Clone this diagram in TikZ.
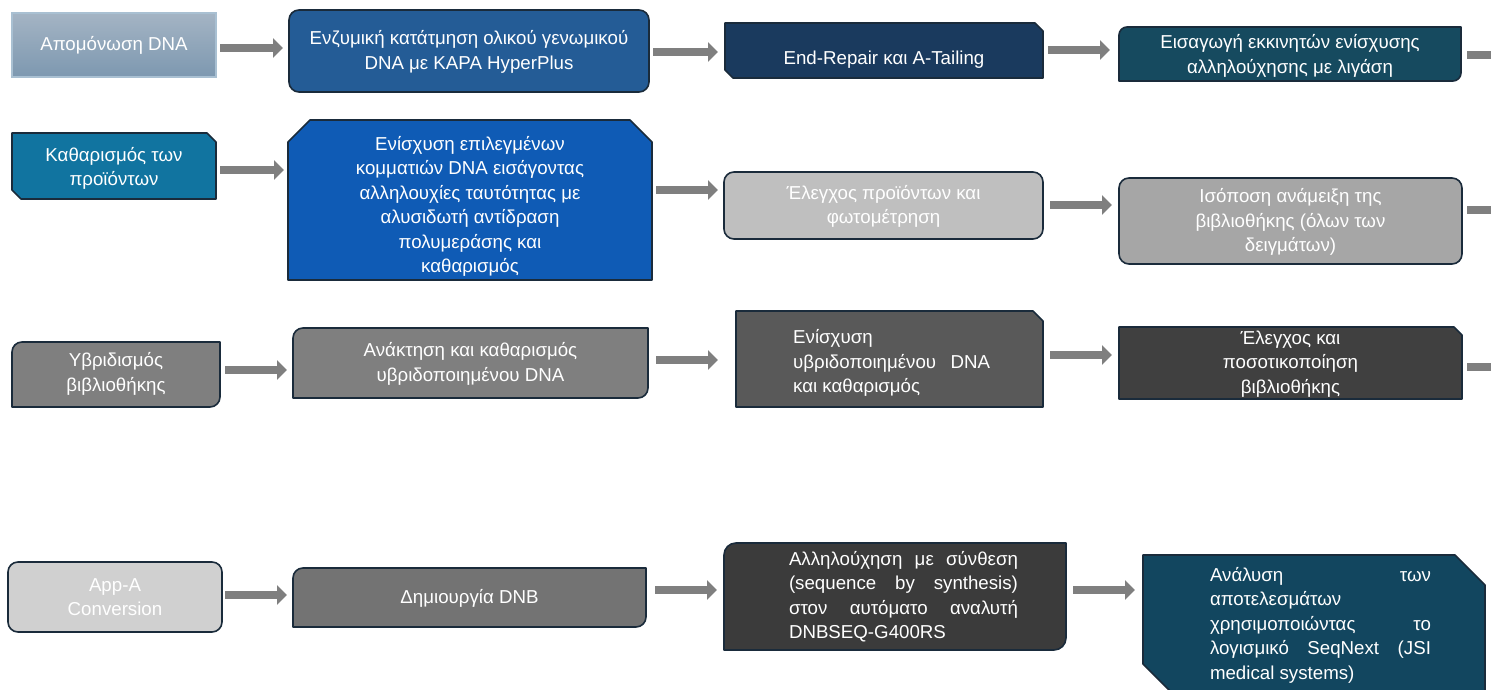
\documentclass[tikz,border=0pt]{standalone}
\usepackage{fontspec}
\setmainfont{Liberation Sans}
\usetikzlibrary{arrows.meta}
\definecolor{bordc}{HTML}{1A2B3B}
\definecolor{arrc}{HTML}{7F7F7F}
\definecolor{gtop}{HTML}{A4B4C4}
\definecolor{gbot}{HTML}{7D98B0}
\definecolor{gbrd}{HTML}{A9C0D2}
\definecolor{cA}{HTML}{245C96}
\definecolor{cB}{HTML}{1A3A5E}
\definecolor{cC}{HTML}{164A5F}
\definecolor{cD}{HTML}{1174A0}
\definecolor{cE}{HTML}{0F5BB5}
\definecolor{cF}{HTML}{BFBFBF}
\definecolor{cG}{HTML}{A6A6A6}
\definecolor{cH}{HTML}{7F7F7F}
\definecolor{cI}{HTML}{595959}
\definecolor{cJ}{HTML}{404040}
\definecolor{cK}{HTML}{D0D0D0}
\definecolor{cL}{HTML}{737373}
\definecolor{cM}{HTML}{3B3B3B}
\definecolor{cN}{HTML}{12465F}
\newcommand\bxRound[3]{\draw[#2, rounded corners=#3] (#1.north west) rectangle (#1.south east);}
\newcommand\bxTLBR[3]{\draw[#2] (#1.south west) -- ([yshift=-#3]#1.north west) arc[start angle=180,end angle=90,radius=#3] -- (#1.north east) -- ([yshift=#3]#1.south east) arc[start angle=0,end angle=-90,radius=#3] -- cycle;}
\newcommand\bxSnip[5]{\draw[#2] ([yshift=-#3]#1.north west) -- ([xshift=#3]#1.north west) -- ([xshift=-#4]#1.north east) -- ([yshift=-#4]#1.north east) -- (#1.south east) -- ([xshift=#5]#1.south west) -- ([yshift=#5]#1.south west) -- cycle;}
\begin{document}
\begin{tikzpicture}[x=1pt,y=1pt,
  frame/.style={inner sep=0pt, outer sep=0pt},
  bd/.style={draw=bordc, line width=1.6pt, line join=round},
  txt/.style={text=white, align=center, inner sep=0pt, font=\fontsize{18.7}{24.5}\selectfont},
  arr/.style={draw=arrc, line width=8pt, -{Triangle[length=10pt,width=19pt]}},
  arrline/.style={draw=arrc, line width=8pt}]
\useasboundingbox (0,0) rectangle (1491,690);
\clip (0,0) rectangle (1491,690);
% ---- frames
\node[frame, minimum width=204pt, minimum height=64pt] (b1) at (114,645) {};
\node[frame, minimum width=360pt, minimum height=82pt] (b2) at (469,639) {};
\node[frame, minimum width=318pt, minimum height=55pt] (b3) at (884,639.5) {};
\node[frame, minimum width=342pt, minimum height=54pt] (b4) at (1290,636) {};
\node[frame, minimum width=204pt, minimum height=66pt] (b5) at (114,524) {};
\node[frame, minimum width=364pt, minimum height=160pt] (b6) at (470,490) {};
\node[frame, minimum width=319pt, minimum height=67pt] (b7) at (883.5,484.5) {};
\node[frame, minimum width=343pt, minimum height=86pt] (b8) at (1290.5,469) {};
\node[frame, minimum width=208pt, minimum height=65pt] (b9) at (116,315.5) {};
\node[frame, minimum width=355pt, minimum height=70pt] (b10) at (470.5,327) {};
\node[frame, minimum width=307pt, minimum height=96pt] (b11) at (889.5,331) {};
\node[frame, minimum width=343pt, minimum height=72pt] (b12) at (1290.5,327) {};
\node[frame, minimum width=214pt, minimum height=70pt] (b13) at (115,93) {};
\node[frame, minimum width=353pt, minimum height=59pt] (b14) at (469.5,92.5) {};
\node[frame, minimum width=342pt, minimum height=107pt] (b15) at (895,93.5) {};
\node[frame, minimum width=342pt, minimum height=137pt] (b16) at (1314,66.5) {};
% ---- shapes
\draw[top color=gtop, bottom color=gbot, draw=gbrd, line width=1.5pt] (b1.north west) rectangle (b1.south east);
\bxRound{b2}{bd, fill=cA}{10pt}
\bxSnip{b3}{bd, fill=cB}{0pt}{8pt}{8pt}
\bxTLBR{b4}{bd, fill=cC}{8pt}
\bxSnip{b5}{bd, fill=cD}{0pt}{9pt}{9pt}
\bxSnip{b6}{bd, fill=cE}{22pt}{22pt}{0pt}
\bxRound{b7}{bd, fill=cF}{10pt}
\bxRound{b8}{bd, fill=cG}{10pt}
\bxTLBR{b9}{bd, fill=cH}{10pt}
\bxTLBR{b10}{bd, fill=cH}{10pt}
\bxSnip{b11}{bd, fill=cI}{0pt}{10pt}{0pt}
\bxSnip{b12}{bd, fill=cJ}{0pt}{8pt}{0pt}
\bxRound{b13}{bd, fill=cK}{10pt}
\bxTLBR{b14}{bd, fill=cL}{10pt}
\bxTLBR{b15}{bd, fill=cM}{12pt}
\bxSnip{b16}{bd, fill=cN}{0pt}{30pt}{28pt}
% ---- texts
\node[txt] (t1) at (114,645) {Απομόνωση DNA};
\node[txt] (t2) at (469,638) {Ενζυμική κατάτμηση ολικού γενωμικού\\DNA με KAPA HyperPlus};
\node[txt] (t3) at (884,630) {End-Repair και A-Tailing};
\node[txt] (t4) at (1290,634) {Εισαγωγή εκκινητών ενίσχυσης\\αλληλούχησης με λιγάση};
\node[txt] (t5) at (114,521.5) {Καθαρισμός των\\προϊόντων};
\node[txt] (t6) at (470,483.5) {Ενίσχυση επιλεγμένων\\κομματιών DNA εισάγοντας\\αλληλουχίες ταυτότητας με\\αλυσιδωτή αντίδραση\\πολυμεράσης και\\καθαρισμός};
\node[txt] (t7) at (883.5,483.5) {Έλεγχος προϊόντων και\\φωτομέτρηση};
\node[txt] (t8) at (1290.5,468) {Ισόποση ανάμειξη της\\βιβλιοθήκης (όλων των\\δειγμάτων)};
\node[txt] (t9) at (116,316) {Υβριδισμός\\βιβλιοθήκης};
\node[txt] (t10) at (470.5,326) {Ανάκτηση και καθαρισμός\\υβριδοποιημένου DNA};
\node[txt, align=left, anchor=west] (t11) at (793,327) {Ενίσχυση\\\makebox[197pt][s]{υβριδοποιημένου DNA}\\και καθαρισμός};
\node[txt] (t12) at (1290.5,326) {Έλεγχος και\\ποσοτικοποίηση\\βιβλιοθήκης};
\node[txt] (t13) at (115,93) {App-A\\Conversion};
\node[txt] (t14) at (469.5,92) {Δημιουργία DNB};
\node[txt, align=left] (t15) at (903.5,93.5) {\makebox[229pt][s]{Αλληλούχηση με σύνθεση}\\\makebox[229pt][s]{(sequence by synthesis)}\\\makebox[229pt][s]{στον αυτόματο αναλυτή}\\\makebox[229pt][l]{DNBSEQ-G400RS}};
\node[txt, align=left] (t16) at (1320.5,65) {\makebox[221pt][s]{Ανάλυση των}\\\makebox[221pt][l]{αποτελεσμάτων}\\\makebox[221pt][s]{χρησιμοποιώντας το}\\\makebox[221pt][s]{λογισμικό SeqNext (JSI}\\\makebox[221pt][l]{medical systems)}};
% ---- connectors
\draw[arr] ([xshift=4pt]b1.east |- 0,642) -- ([xshift=-6pt]b2.west |- 0,642);
\draw[arr] ([xshift=4pt]b2.east |- 0,638) -- ([xshift=-7pt]b3.west |- 0,638);
\draw[arr] ([xshift=5pt]b3.east |- 0,640) -- ([xshift=-9pt]b4.west |- 0,640);
\coordinate (e4) at (1500,635);
\draw[arrline] ([xshift=6pt]b4.east |- 0,635) -- (e4);
\draw[arr] ([xshift=4pt]b5.east |- 0,520) -- ([xshift=-4pt]b6.west |- 0,520);
\draw[arr] ([xshift=4pt]b6.east |- 0,500) -- ([xshift=-6pt]b7.west |- 0,500);
\draw[arr] ([xshift=7pt]b7.east |- 0,485) -- ([xshift=-7pt]b8.west |- 0,485);
\coordinate (e8) at (1500,480);
\draw[arrline] ([xshift=5pt]b8.east |- 0,480) -- (e8);
\draw[arr] ([xshift=5pt]b9.east |- 0,320) -- ([xshift=-6pt]b10.west |- 0,320);
\draw[arr] ([xshift=8pt]b10.east |- 0,330) -- ([xshift=-18pt]b11.west |- 0,330);
\draw[arr] ([xshift=7pt]b11.east |- 0,335) -- ([xshift=-7pt]b12.west |- 0,335);
\coordinate (e12) at (1500,323);
\draw[arrline] ([xshift=5pt]b12.east |- 0,323) -- (e12);
\draw[arr] ([xshift=3pt]b13.east |- 0,95) -- ([xshift=-6pt]b14.west |- 0,95);
\draw[arr] ([xshift=9pt]b14.east |- 0,100) -- ([xshift=-7pt]b15.west |- 0,100);
\draw[arr] ([xshift=7pt]b15.east |- 0,100) -- ([xshift=-8pt]b16.west |- 0,100);
\end{tikzpicture}
\end{document}
